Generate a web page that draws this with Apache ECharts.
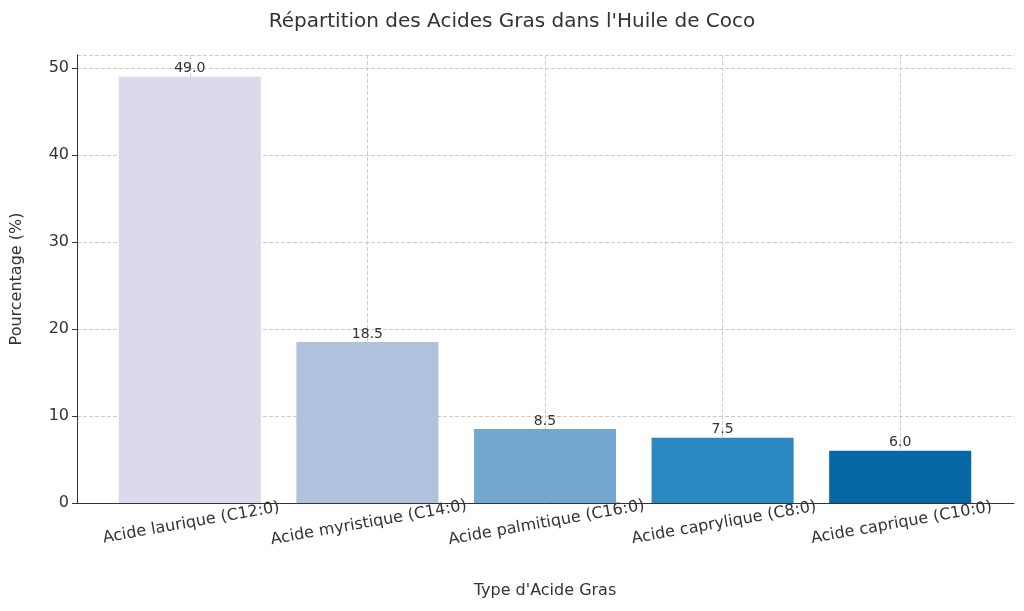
<!DOCTYPE html><html><head><meta charset="utf-8"><script src="https://cdn.jsdelivr.net/npm/echarts@6/dist/echarts.min.js"></script></head><body style="margin:0"><div id="c" style="width:1024px;height:611px"></div><script>
const categories=['Acide laurique (C12:0)','Acide myristique (C14:0)','Acide palmitique (C16:0)','Acide caprylique (C8:0)','Acide caprique (C10:0)'];
const values=[49.0,18.5,8.5,7.5,6.0];
const colors=['#dadaeb','#b0c1de','#72a8cf','#2b88c0','#0868a5'];
const F='DejaVu Sans';
const c=echarts.init(document.getElementById('c'));
c.setOption({animation:false,textStyle:{fontFamily:F},
title:{text:"Répartition des Acides Gras dans l'Huile de Coco",left:'center',top:7,textStyle:{fontFamily:F,fontSize:20,fontWeight:'normal',color:'#333'}},
grid:[{left:101,right:35,top:55,bottom:108},{left:77,right:10,top:55,bottom:108}],
xAxis:[{type:'category',gridIndex:0,data:categories,axisLine:{show:false},axisTick:{show:false},axisLabel:{rotate:10,align:'center',verticalAlign:'top',fontSize:16,color:'#333',margin:12,interval:0},name:"Type d'Acide Gras",nameLocation:'middle',nameGap:80,nameTextStyle:{fontSize:16,color:'#333'}},
{type:'value',gridIndex:1,min:0,max:1,axisLine:{show:true,lineStyle:{color:'#333'}},axisTick:{show:false},axisLabel:{show:false},splitLine:{show:false}}],
yAxis:[{type:'value',gridIndex:0,min:0,max:51.5,show:false,splitLine:{show:false}},
{type:'value',gridIndex:1,min:0,max:51.5,interval:10,axisLine:{show:true,lineStyle:{color:'#333'}},axisTick:{show:true,length:5,lineStyle:{color:'#333'}},axisLabel:{fontSize:16,color:'#333',showMaxLabel:false},splitLine:{lineStyle:{type:'dashed',color:'#ccc'}},name:'Pourcentage (%)',nameLocation:'middle',nameGap:52,nameTextStyle:{fontSize:16,color:'#333'}}],
series:[{type:'bar',xAxisIndex:0,yAxisIndex:0,z:3,barWidth:'80%',data:values.map((v,i)=>({value:v,itemStyle:{color:colors[i]}})),
label:{show:true,position:'top',distance:1,fontSize:14,color:'#333',formatter:p=>p.value.toFixed(1)},
markLine:{silent:true,symbol:'none',label:{show:false},z:1,lineStyle:{type:'dashed',color:'#ccc',width:1},data:categories.map(n=>({xAxis:n}))}}]
});
</script></body></html>
